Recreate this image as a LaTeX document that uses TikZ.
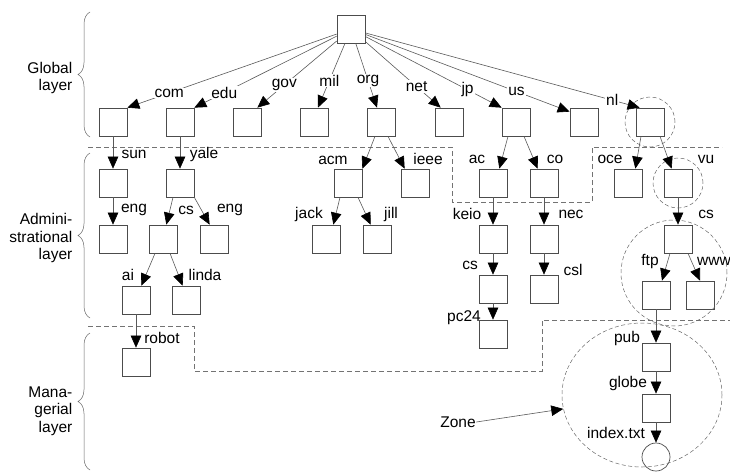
\documentclass[tikz,border=0pt]{standalone}
\usepackage{fontspec}
\setmainfont{Liberation Sans}
\usetikzlibrary{arrows.meta,decorations.pathreplacing,shapes.geometric}

\begin{document}
\begin{tikzpicture}[x=1pt, y=-1pt,
    font=\fontsize{15.5}{17.5}\selectfont,
    dom/.style={draw=black!70, line width=0.7pt, minimum size=28pt, inner sep=0pt},
    leaf/.style={dom, circle},
    arr/.style={-{Triangle[length=12pt,width=10.5pt,black]}, black!65, line width=0.6pt},
    lbl/.style={inner sep=0.5pt, text=black},
    onlbl/.style={inner sep=1pt, fill=white, text=black},
    tierline/.style={black!55, line width=0.6pt, dash pattern=on 5pt off 3pt},
    zoneline/.style={draw=black!60, line width=0.5pt, dash pattern=on 4pt off 2.5pt},
    tierbrace/.style={decorate, decoration={brace, amplitude=12pt}, black!60, line width=0.5pt}]
    \useasboundingbox (0,0) rectangle (730,474);

    \node[lbl, align=right, anchor=east] (global) at (73,78) {Global\\layer};
    \node[lbl, align=right, anchor=east] (admin) at (73,238) {Admini-\\strational\\layer};
    \node[lbl, align=right, anchor=east] (manag) at (73,411) {Mana-\\gerial\\layer};
    \draw[tierbrace] (90,137) -- (90,12);
    \draw[tierbrace] (90,318) -- (90,153);
    \draw[tierbrace] (90,470) -- (90,333);

    \draw[tierline] (88,147) -- (452,147) -- (452,202) -- (592,202) -- (592,147) -- (722,147);
    \draw[tierline] (88,326) -- (194,326) -- (194,371) -- (542,371) -- (542,320) -- (730,320);

    \node[dom] (root) at (351,29) {};

    \node[dom] (com) at (113,122) {};
    \node[dom] (edu) at (180,122) {};
    \node[dom] (gov) at (247,122) {};
    \node[dom] (mil) at (314,122) {};
    \node[dom] (org) at (381,122) {};
    \node[dom] (net) at (449,122) {};
    \node[dom] (jp) at (516,122) {};
    \node[dom] (us) at (584,122) {};
    \node[dom] (nl) at (650,122) {};

    \node[dom] (sun) at (113,183) {};
    \node[dom] (yale) at (180,183) {};
    \node[dom] (acm) at (348,183) {};
    \node[dom] (ieee) at (415,183) {};
    \node[dom] (ac) at (493,183) {};
    \node[dom] (co) at (544,183) {};
    \node[dom] (oce) at (628,183) {};
    \node[dom] (vu) at (678,183) {};

    \node[dom] (suneng) at (113,239) {};
    \node[dom] (yalecs) at (163,239) {};
    \node[dom] (yaleeng) at (214,239) {};
    \node[dom] (jack) at (326,239) {};
    \node[dom] (jill) at (377,239) {};
    \node[dom] (keio) at (493,239) {};
    \node[dom] (nec) at (544,239) {};
    \node[dom] (vucs) at (678,239) {};

    \node[dom] (ai) at (136,300) {};
    \node[dom] (linda) at (186,300) {};
    \node[dom] (keiocs) at (493,289) {};
    \node[dom] (csl) at (544,289) {};
    \node[dom] (ftp) at (656,295) {};
    \node[dom] (www) at (700,295) {};

    \node[dom] (robot) at (136,362) {};
    \node[dom] (pc24) at (493,334) {};
    \node[dom] (pub) at (656,357) {};
    \node[dom] (globe) at (656,408) {};
    \node[leaf] (index) at (656,457) {};

    \node[zoneline, circle, minimum size=50pt] (nlzone) at (650,122) {};
    \node[zoneline, circle, minimum size=50pt] (vuzone) at (678,183) {};
    \node[zoneline, circle, minimum size=106pt] (cszone) at (674,273) {};
    \node[zoneline, ellipse, minimum width=160pt, minimum height=144pt] (zone) at (642,395) {};

    \draw[arr] (root) -- node[onlbl, pos=0.8] {com} (com.north east);
    \draw[arr] (root) -- node[onlbl, pos=0.79] {edu} (edu.north east);
    \draw[arr] (root) -- node[onlbl, pos=0.66] {gov} ([xshift=-4pt]gov.north east);
    \draw[arr] (root) -- node[onlbl, pos=0.58] {mil} ([xshift=4pt]mil.north);
    \draw[arr] (root) -- node[onlbl, pos=0.58] {org} ([xshift=-4pt]org.north);
    \draw[arr] (root) -- node[onlbl, pos=0.68] {net} ([xshift=6pt]net.north west);
    \draw[arr] (root) -- node[onlbl, pos=0.75] {jp} (jp.north west);
    \draw[arr] (root) -- node[onlbl, pos=0.74] {us} ([yshift=-4pt]us.north west);
    \draw[arr] (root) -- node[onlbl, pos=0.9] {nl} ([xshift=4pt]nl.north west);

    \draw[arr] (com) -- (sun) node[lbl] at (134,154) {sun};
    \draw[arr] (edu) -- (yale) node[lbl] at (204,154) {yale};
    \draw[arr] ([xshift=-6pt]org.south) -- (acm.north east) node[lbl] at (333,160) {acm};
    \draw[arr] ([xshift=7pt]org.south) -- ([xshift=4pt]ieee.north west) node[lbl] at (428,159) {ieee};
    \draw[arr] ([xshift=-8pt]jp.south) -- ([xshift=-8pt]ac.north east) node[lbl] at (477,159) {ac};
    \draw[arr] ([xshift=8pt]jp.south) -- ([xshift=8pt]co.north west) node[lbl] at (555,159) {co};
    \draw[arr] ([xshift=-9pt]nl.south) -- ([xshift=-7pt]oce.north east) node[lbl] at (610,159) {oce};
    \draw[arr] ([xshift=10pt]nl.south) -- ([xshift=8pt]vu.north west) node[lbl] at (706,159) {vu};

    \draw[arr] (sun) -- (suneng) node[lbl] at (134,210) {eng};
    \draw[arr] ([xshift=-7pt]yale.south) -- ([xshift=-11pt]yalecs.north east) node[lbl] at (186,210) {cs};
    \draw[arr] (yale.south east) -- ([xshift=10pt]yaleeng.north west) node[lbl] at (230,210) {eng};
    \draw[arr] ([xshift=-8pt]acm.south) -- ([xshift=-7pt]jack.north east) node[lbl] at (309,214) {jack};
    \draw[arr] ([xshift=10pt]acm.south) -- ([xshift=8pt]jill.north west) node[lbl] at (391,214) {jill};
    \draw[arr] (ac) -- (keio) node[lbl] at (467,214) {keio};
    \draw[arr] (co) -- (nec) node[lbl] at (571,214) {nec};
    \draw[arr] (vu) -- (vucs) node[lbl] at (706,214) {cs};

    \draw[arr] ([xshift=-8pt]yalecs.south) -- ([xshift=-9pt]ai.north east) node[lbl] at (128,275) {ai};
    \draw[arr] ([xshift=7pt]yalecs.south) -- ([xshift=11pt]linda.north west) node[lbl] at (205,275) {linda};
    \draw[arr] (keio) -- (keiocs) node[lbl] at (470,265) {cs};
    \draw[arr] (nec) -- (csl) node[lbl] at (573,270) {csl};
    \draw[arr] ([xshift=-8pt]vucs.south) -- ([xshift=6pt]ftp.north) node[lbl] at (650,261) {ftp};
    \draw[arr] ([xshift=10pt]vucs.south) -- (www.north) node[lbl] at (714,261) {www};

    \draw[arr] (ai) -- (robot) node[lbl] at (162,338) {robot};
    \draw[arr] (keiocs) -- (pc24) node[lbl] at (464,318) {pc24};
    \draw[arr] (ftp) -- (pub) node[lbl] at (627,338) {pub};
    \draw[arr] (pub) -- (globe) node[lbl] at (628,383) {globe};
    \draw[arr] (globe) -- (index) node[lbl] at (616,433) {index.txt};

    \node[lbl] (zonetxt) at (458,422) {Zone};
    \draw[arr] (zonetxt.east) -- (zone.190);
\end{tikzpicture}
\end{document}
